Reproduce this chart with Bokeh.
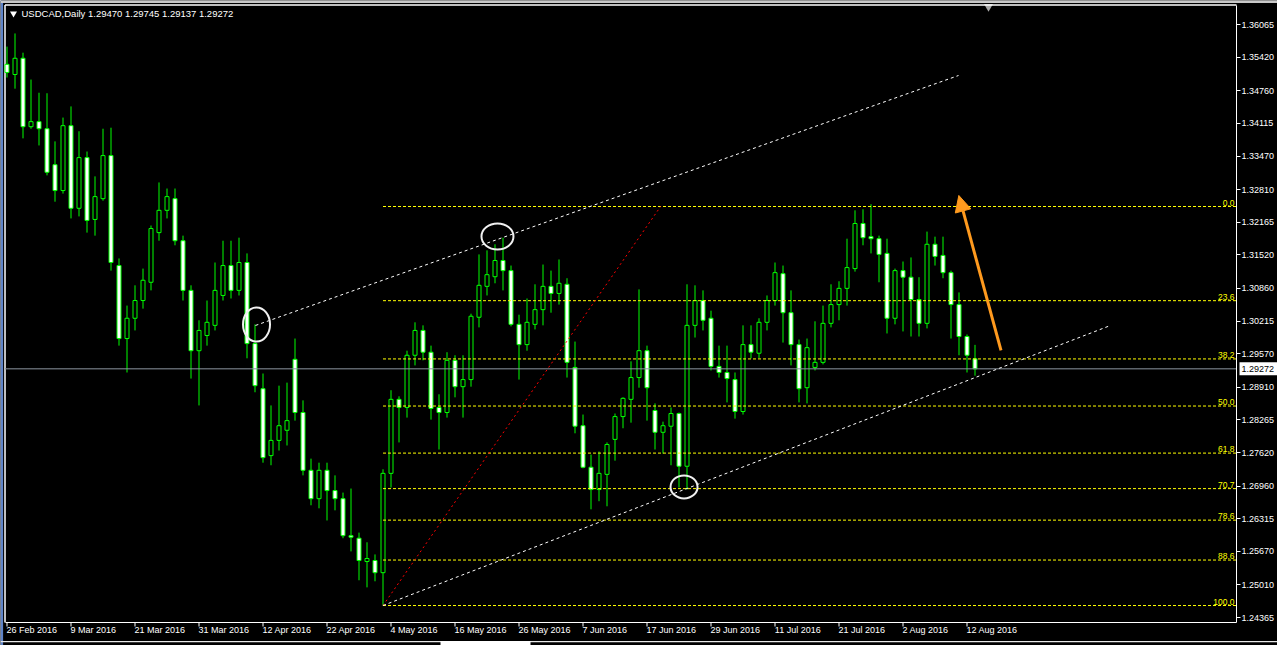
from bokeh.plotting import figure
from bokeh.models import (ColumnDataSource, FixedTicker, Arrow, NormalHead, Range1d,
                          PrintfTickFormatter)
from bokeh.core.properties import value
from bokeh.embed import file_html
from bokeh.resources import INLINE

# ---------------- data (USDCAD daily, 26 Feb 2016 .. 15 Aug 2016) ----------------
opens = [1.3528, 1.3508, 1.3540, 1.3405, 1.3415, 1.3401, 1.3330, 1.3279, 1.3407, 1.3244,
         1.3344, 1.3222, 1.3263, 1.3348, 1.3131, 1.2987, 1.3027, 1.3062, 1.3098, 1.3196,
         1.3240, 1.3263, 1.3180, 1.3082, 1.2963, 1.2993, 1.3013, 1.3072, 1.3131, 1.3082,
         1.3137, 1.2977, 1.2888, 1.2756, 1.2786, 1.2806, 1.2946, 1.2841, 1.2727, 1.2671,
         1.2727, 1.2687, 1.2671, 1.2598, 1.2593, 1.2547, 1.2549, 1.2525, 1.2721, 1.2867,
         1.2851, 1.2954, 1.3003, 1.2960, 1.2851, 1.2841, 1.2944, 1.2892, 1.2906, 1.3029,
         1.3090, 1.3109, 1.3141, 1.3121, 1.3015, 1.2975, 1.3015, 1.3044, 1.3090, 1.3076,
         1.3094, 1.2930, 1.2815, 1.2733, 1.2689, 1.2719, 1.2788, 1.2833, 1.2867, 1.2910,
         1.2963, 1.2845, 1.2802, 1.2814, 1.2839, 1.2735, 1.3013, 1.3062, 1.3027, 1.2932,
         1.2920, 1.2906, 1.2843, 1.2975, 1.2958, 1.3019, 1.3062, 1.3115, 1.3038, 1.2975,
         1.2890, 1.2930, 1.2940, 1.3017, 1.3054, 1.3086, 1.3125, 1.3214, 1.3188, 1.3184,
         1.3155, 1.3027, 1.3121, 1.3108, 1.3064, 1.3017, 1.3173, 1.3151, 1.3117, 1.3054,
         1.2991, 1.29470]
highs = [1.3563, 1.3589, 1.3551, 1.3498, 1.3472, 1.3471, 1.3376, 1.3423, 1.3445, 1.3396,
         1.3356, 1.3307, 1.3401, 1.3403, 1.3145, 1.3052, 1.3092, 1.3125, 1.3210, 1.3295,
         1.3283, 1.3283, 1.3190, 1.3092, 1.3023, 1.3062, 1.3137, 1.3180, 1.3180, 1.3186,
         1.3155, 1.3015, 1.2918, 1.2855, 1.2894, 1.2900, 1.2987, 1.2865, 1.2750, 1.2742,
         1.2742, 1.2717, 1.2683, 1.2691, 1.2604, 1.2585, 1.2561, 1.2729, 1.2885, 1.2873,
         1.2963, 1.3019, 1.3013, 1.2973, 1.2877, 1.2960, 1.2954, 1.2954, 1.3036, 1.3153,
         1.3161, 1.3173, 1.3186, 1.3131, 1.3034, 1.3066, 1.3094, 1.3133, 1.3121, 1.3143,
         1.3106, 1.2981, 1.2837, 1.2758, 1.2764, 1.2782, 1.2839, 1.2871, 1.2942, 1.3084,
         1.2973, 1.2859, 1.2823, 1.2851, 1.2841, 1.3094, 1.3092, 1.3082, 1.3042, 1.2973,
         1.2973, 1.2920, 1.3013, 1.3013, 1.3027, 1.3072, 1.3137, 1.3131, 1.3082, 1.2985,
         1.2987, 1.3021, 1.3052, 1.3094, 1.3100, 1.3184, 1.3240, 1.3242, 1.3252, 1.3190,
         1.3184, 1.3125, 1.3139, 1.3147, 1.3108, 1.3198, 1.3188, 1.3188, 1.3121, 1.3078,
         1.2995, 1.29745]
lows = [1.3502, 1.3480, 1.3382, 1.3401, 1.3368, 1.3309, 1.3257, 1.3273, 1.3224, 1.3228,
        1.3196, 1.3190, 1.3259, 1.3121, 1.2973, 1.2920, 1.3003, 1.3046, 1.3082, 1.3180,
        1.3224, 1.3171, 1.3062, 1.2908, 1.2855, 1.2973, 1.3003, 1.3062, 1.3066, 1.3072,
        1.2948, 1.2881, 1.2742, 1.2737, 1.2766, 1.2776, 1.2825, 1.2717, 1.2658, 1.2652,
        1.2628, 1.2648, 1.2593, 1.2567, 1.2510, 1.2496, 1.2508, 1.2460, 1.2693, 1.2782,
        1.2831, 1.2934, 1.2944, 1.2827, 1.2768, 1.2831, 1.2871, 1.2831, 1.2892, 1.3009,
        1.3072, 1.3096, 1.3082, 1.3011, 1.2906, 1.2963, 1.3005, 1.3013, 1.3038, 1.3054,
        1.2910, 1.2800, 1.2731, 1.2650, 1.2666, 1.2656, 1.2746, 1.2810, 1.2821, 1.2890,
        1.2825, 1.2768, 1.2760, 1.2737, 1.2693, 1.2689, 1.2989, 1.3003, 1.2924, 1.2910,
        1.2861, 1.2829, 1.2837, 1.2948, 1.2948, 1.3003, 1.3052, 1.2979, 1.2934, 1.2861,
        1.2859, 1.2924, 1.2936, 1.3009, 1.3023, 1.3052, 1.3119, 1.3171, 1.3155, 1.3098,
        1.2997, 1.3015, 1.3001, 1.2991, 1.2991, 1.3007, 1.3131, 1.3106, 1.2987, 1.2954,
        1.2920, 1.29137]
closes = [1.3512, 1.3540, 1.3405, 1.3415, 1.3401, 1.3315, 1.3279, 1.3407, 1.3244, 1.3344,
          1.3220, 1.3267, 1.3348, 1.3137, 1.2987, 1.3027, 1.3062, 1.3102, 1.3204, 1.3240,
          1.3267, 1.3180, 1.3082, 1.2963, 1.3003, 1.3019, 1.3082, 1.3131, 1.3082, 1.3137,
          1.2977, 1.2894, 1.2752, 1.2786, 1.2815, 1.2825, 1.2841, 1.2727, 1.2671, 1.2727,
          1.2687, 1.2671, 1.2598, 1.2595, 1.2549, 1.2553, 1.2525, 1.2721, 1.2867, 1.2851,
          1.2954, 1.3003, 1.2960, 1.2849, 1.2841, 1.2944, 1.2892, 1.2906, 1.3031, 1.3092,
          1.3113, 1.3141, 1.3121, 1.3015, 1.2975, 1.3019, 1.3044, 1.3090, 1.3076, 1.3096,
          1.2940, 1.2814, 1.2733, 1.2689, 1.2721, 1.2778, 1.2833, 1.2869, 1.2910, 1.2963,
          1.2890, 1.2802, 1.2815, 1.2839, 1.2735, 1.3013, 1.3062, 1.3023, 1.2932, 1.2920,
          1.2908, 1.2843, 1.2975, 1.2960, 1.3019, 1.3062, 1.3117, 1.3038, 1.2975, 1.2888,
          1.2969, 1.2940, 1.3017, 1.3054, 1.3086, 1.3127, 1.3214, 1.3186, 1.3184, 1.3153,
          1.3027, 1.3121, 1.3108, 1.3064, 1.3017, 1.3173, 1.3149, 1.3117, 1.3054, 1.2991,
          1.2954, 1.29272]

symbol = "USDCAD,Daily"
last_price = 1.29272

date_ticks = [0, 8, 16, 24, 32, 40, 48, 56, 64, 72, 80, 88, 96, 104, 112, 120]
date_labels = ["26 Feb 2016", "9 Mar 2016", "21 Mar 2016", "31 Mar 2016", "12 Apr 2016",
               "22 Apr 2016", "4 May 2016", "16 May 2016", "26 May 2016", "7 Jun 2016",
               "17 Jun 2016", "29 Jun 2016", "11 Jul 2016", "21 Jul 2016", "2 Aug 2016",
               "12 Aug 2016"]
price_ticks = [1.36065, 1.35420, 1.34760, 1.34115, 1.33470, 1.32810, 1.32165, 1.31520,
               1.30860, 1.30215, 1.29570, 1.28910, 1.28265, 1.27620, 1.26960, 1.26315,
               1.25670, 1.25010, 1.24365]

# Fibonacci retracement (3 May low -> July high)
fib_low = 1.24602
fib_high = 1.32475
fib_start = 47
fib_ratios = [0.0, 23.6, 38.2, 50.0, 61.8, 70.7, 78.6, 88.6, 100.0]
fib_labels = ["0.0", "23.6", "38.2", "50.0", "61.8", "70.7", "78.6", "88.6", "100.0"]
fib_prices = [fib_high - (fib_high - fib_low) * r / 100.0 for r in fib_ratios]
fib_diag_x = [47, 81.7]
fib_diag_y = [fib_low, fib_high]

# trend lines (bar index, price)
upper_x = [31.06, 118.94]
upper_y = [1.30128, 1.35060]
lower_x = [47.0, 137.94]
lower_y = [1.24602, 1.30128]

# highlighted touches (bar index, price, size in px)
circle_x = [31.19, 61.31, 84.63]
circle_y = [1.30147, 1.31884, 1.26941]
circle_w = [27, 32, 27]
circle_h = [34, 26, 23]

# projection arrow
arrow_from = (124.25, 1.29635)
arrow_to = (118.98, 1.32693)

# ---------------- layout helpers (screen px of the 1277x645 window) ----------------
W, H = 1277, 645
BAR_PX = 8.0          # pixels per daily bar
BAR0_PX = 6.5         # screen x of first bar
PRICE_TOP = 1.36540   # price at screen y = 0
PX_PER_PRICE = 5068.0


def px_x(px):
    return (px - BAR0_PX) / BAR_PX


def px_y(py):
    return PRICE_TOP - py / PX_PER_PRICE


AX_RIGHT = 1236   # price-axis line
AX_BOTTOM = 622   # time-axis line
LEFT, TOP = 4.5, 4.5

n = len(opens)
idx = list(range(n))
bull = [c >= o for o, c in zip(opens, closes)]
src = ColumnDataSource(dict(
    x=idx, open=opens, high=highs, low=lows, close=closes,
    top=[max(o, c) for o, c in zip(opens, closes)],
    bottom=[min(o, c) for o, c in zip(opens, closes)],
    fill=["black" if b else "white" for b in bull],
))

p = figure(width=W, height=H,
           x_range=Range1d(px_x(0), px_x(W)), y_range=Range1d(px_y(H), px_y(0)),
           output_backend="svg", toolbar_location=None, y_axis_location="right",
           min_border=0, background_fill_color="black", border_fill_color="black")
p.title.visible = False
p.grid.visible = False
p.outline_line_color = None

FONT = "Liberation Sans"

# window chrome
p.quad(left=[px_x(0)], right=[px_x(2.6)], top=[px_y(0)], bottom=[px_y(H)],
       fill_color="#5F84C8", line_color=None)
p.quad(left=[px_x(0)], right=[px_x(W)], top=[px_y(0)], bottom=[px_y(2.4)],
       fill_color="#C8C8C8", line_color=None)
p.quad(left=[px_x(0)], right=[px_x(W)], top=[px_y(640.5)], bottom=[px_y(641.8)],
       fill_color="#E8E8E8", line_color=None)
p.quad(left=[px_x(440)], right=[px_x(530)], top=[px_y(640.5)], bottom=[px_y(H)],
       fill_color="white", line_color=None)
p.scatter(x=[px_x(988)], y=[px_y(6)], marker="inverted_triangle", size=9,
          fill_color="#A8A8A8", line_color=None)
p.segment(x0=[px_x(LEFT), px_x(LEFT)], y0=[px_y(TOP), px_y(TOP)],
          x1=[px_x(LEFT), px_x(AX_RIGHT)], y1=[px_y(AX_BOTTOM), px_y(TOP)],
          line_color="white", line_width=1.5)

# price axis (right)
ya = p.yaxis[0]
ya.fixed_location = px_x(AX_RIGHT)
ya.bounds = (px_y(AX_BOTTOM), px_y(TOP))
ya.ticker = FixedTicker(ticks=price_ticks)
ya.formatter = PrintfTickFormatter(format="%.5f")
ya.axis_line_color = "white"
ya.major_tick_line_color = "white"
ya.minor_tick_line_color = None
ya.major_tick_in = 0
ya.major_tick_out = 4
ya.major_label_standoff = 1
ya.major_label_text_color = "white"
ya.major_label_text_font = FONT
ya.major_label_text_font_size = "9px"

# time axis (bottom): MT4 writes each date left-aligned just right of its tick,
# axis labels are centred, so label positions are moved by half the text width
ADV = {"0": .556, "1": .556, "2": .556, "3": .556, "4": .556, "5": .556, "6": .556,
       "7": .556, "8": .556, "9": .556, " ": .278, "F": .611, "e": .556, "b": .556,
       "M": .833, "a": .556, "r": .333, "A": .667, "p": .556, "y": .5, "J": .5,
       "u": .556, "n": .556, "l": .222, "g": .556}
DATE_FS = 9.0
label_pos = []
for t, lab in zip(date_ticks, date_labels):
    w = sum(ADV.get(ch, .556) for ch in lab) * DATE_FS
    label_pos.append(t + round((w / 2.0 - 0.5) / BAR_PX * 64) / 64.0)

xa = p.xaxis[0]
xa.fixed_location = px_y(AX_BOTTOM)
xa.bounds = (px_x(LEFT), px_x(AX_RIGHT))
xa.ticker = FixedTicker(ticks=label_pos)
xa.major_label_overrides = {pos: lab for pos, lab in zip(label_pos, date_labels)}
xa.axis_line_color = "white"
xa.major_tick_line_color = None
xa.minor_tick_line_color = None
xa.major_tick_in = 0
xa.major_tick_out = 0
xa.major_label_standoff = 2
xa.major_label_text_color = "white"
xa.major_label_text_font = FONT
xa.major_label_text_font_size = "9px"
# date tick marks at the bars they name
p.segment(x0=date_ticks, y0=[px_y(AX_BOTTOM)] * len(date_ticks),
          x1=date_ticks, y1=[px_y(AX_BOTTOM + 4)] * len(date_ticks),
          line_color="white", line_width=1)

# candles
p.segment(x0="x", y0="low", x1="x", y1="high", source=src,
          line_color="#00FF00", line_width=1)
p.vbar(x="x", top="top", bottom="bottom", width=0.5, source=src,
       fill_color="fill", line_color="#00FF00", line_width=1)

# current price line
p.segment(x0=[px_x(LEFT)], y0=[last_price], x1=[px_x(AX_RIGHT)], y1=[last_price],
          line_color="#8C96A0", line_width=1)

# fibonacci levels
p.segment(x0=[fib_start] * len(fib_prices), y0=fib_prices,
          x1=[px_x(AX_RIGHT)] * len(fib_prices), y1=fib_prices,
          line_color="#FFFF00", line_dash="3 2", line_width=1)
p.text(x=[px_x(AX_RIGHT - 2)] * len(fib_prices), y=fib_prices, text=fib_labels,
       text_align="right", text_baseline="bottom", y_offset=-1,
       text_color="#FFFF00", text_font=value(FONT), text_font_size="8.5px")
p.line(fib_diag_x, fib_diag_y, line_color="#FF0000", line_dash="2 3", line_width=1)

# channel lines
p.line(upper_x, upper_y, line_color="white", line_dash="3 3", line_width=1)
p.line(lower_x, lower_y, line_color="white", line_dash="3 3", line_width=1)

# circles
p.ellipse(x=circle_x, y=circle_y, width=circle_w, height=circle_h,
          width_units="screen", height_units="screen",
          fill_color=None, line_color="#F0F0F0", line_width=2)

# arrow
orange = "#FF9A1E"
p.add_layout(Arrow(end=NormalHead(size=16, fill_color=orange, line_color=orange),
                   x_start=arrow_from[0], y_start=arrow_from[1],
                   x_end=arrow_to[0], y_end=arrow_to[1],
                   line_color=orange, line_width=3))

# header
p.scatter(x=[px_x(13)], y=[px_y(13)], marker="inverted_triangle", size=7,
          fill_color="white", line_color=None)
p.text(x=[px_x(21)], y=[px_y(13)],
       text=[f"{symbol}  {opens[-1]:.5f} {highs[-1]:.5f} {lows[-1]:.5f} {closes[-1]:.5f}"],
       text_color="white", text_font=value(FONT), text_font_size="9.5px",
       text_baseline="middle")

# last price tag on the price axis
p.rect(x=[px_x((AX_RIGHT + 3 + W) / 2.0)], y=[last_price], width=[W - AX_RIGHT - 3],
       height=[13], width_units="screen", height_units="screen",
       fill_color="white", line_color=None)
p.text(x=[px_x(AX_RIGHT + 5)], y=[last_price], text=[f"{last_price:.5f}"],
       text_color="black", text_font=value(FONT), text_font_size="9px",
       text_baseline="middle")

open("out.html", "w").write(file_html(p, INLINE))
